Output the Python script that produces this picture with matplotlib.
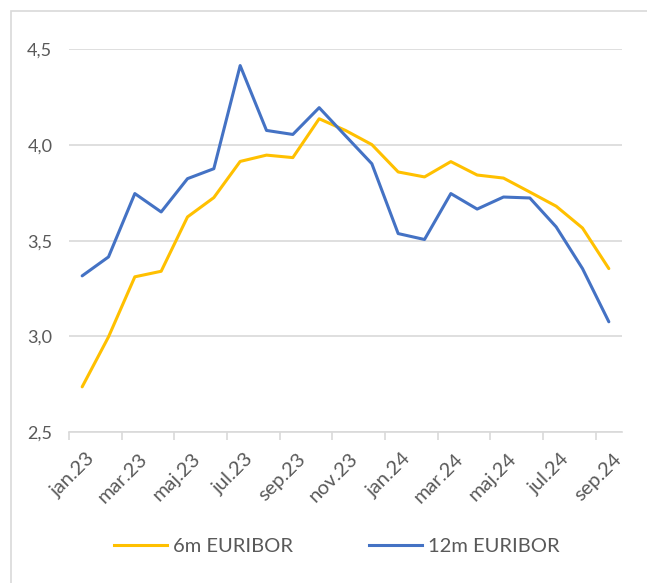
import matplotlib
matplotlib.use("Agg")
import matplotlib.pyplot as plt
from matplotlib.patches import Rectangle
from matplotlib.lines import Line2D
from matplotlib.transforms import ScaledTranslation

months = ["jan.23", "feb.23", "mar.23", "apr.23", "maj.23", "jun.23", "jul.23",
          "aug.23", "sep.23", "okt.23", "nov.23", "dec.23", "jan.24", "feb.24",
          "mar.24", "apr.24", "maj.24", "jun.24", "jul.24", "aug.24", "sep.24"]
euribor_6m = [2.736, 2.997, 3.311, 3.340, 3.624, 3.725, 3.914, 3.947, 3.934, 4.137,
              4.076, 4.002, 3.859, 3.833, 3.913, 3.843, 3.827, 3.754, 3.680, 3.566, 3.354]
euribor_12m = [3.316, 3.415, 3.746, 3.650, 3.824, 3.876, 4.415, 4.076, 4.055, 4.195,
               4.048, 3.902, 3.537, 3.506, 3.746, 3.665, 3.728, 3.723, 3.572, 3.354, 3.076]
yticks = [2.5, 3.0, 3.5, 4.0, 4.5]
ytick_labels = ["2,5", "3,0", "3,5", "4,0", "4,5"]
series_names = ["6m EURIBOR", "12m EURIBOR"]

plt.rcParams['font.family'] = ['Lato', 'DejaVu Sans']
W, H = 647, 583
fig = plt.figure(figsize=(W / 100, H / 100), dpi=100)

# outer chart frame
fig.patches.append(Rectangle((11 / W, -0.05), 1.1, 1 - 11 / H + 0.05, transform=fig.transFigure,
                             fill=False, edgecolor="#d9d9d9", linewidth=1.2))

ax = fig.add_axes([69 / W, 1 - 432 / H, (622 - 69) / W, (432 - 49.3) / H])
x = list(range(len(months)))
ax.plot(x, euribor_6m, color="#FFC000", linewidth=2.2, solid_capstyle="round",
        solid_joinstyle="round", label=series_names[0])
ax.plot(x, euribor_12m, color="#4472C4", linewidth=2.2, solid_capstyle="round",
        solid_joinstyle="round", label=series_names[1])

ax.set_xlim(-0.5, len(months) - 0.5)
ax.set_ylim(2.5, 4.5)
ax.set_yticks(yticks)
ax.set_yticklabels(ytick_labels)
ax.yaxis.grid(True, color="#d9d9d9", linewidth=1.2)
ax.set_axisbelow(True)
ax.tick_params(axis="y", length=0, pad=12, labelsize=13, labelcolor="#595959")

# major ticks at category boundaries, labels at every 2nd category
ax.set_xticks([i - 0.5 for i in range(0, len(months), 2)])
ax.set_xticklabels([])
ax.tick_params(axis="x", which="major", length=6, width=1.2, color="#d9d9d9")
ax.set_xticks(list(range(0, len(months), 2)), minor=True)
ax.set_xticklabels(months[::2], minor=True, rotation=45, ha="right",
                   rotation_mode="anchor")
ax.tick_params(axis="x", which="minor", length=0, pad=13, labelsize=14.5,
               labelcolor="#595959")
off = ScaledTranslation(4 / 100, 0, fig.dpi_scale_trans)
for lbl in ax.get_xticklabels(minor=True):
    lbl.set_transform(lbl.get_transform() + off)

for s in ["top", "right", "left"]:
    ax.spines[s].set_visible(False)
ax.spines["bottom"].set_color("#d9d9d9")
ax.spines["bottom"].set_linewidth(1.2)

handles = [Line2D([0], [0], color="#FFC000", linewidth=2.2),
           Line2D([0], [0], color="#4472C4", linewidth=2.2)]
fig.legend(handles, series_names, loc="center", bbox_to_anchor=(337 / W, 1 - 546 / H),
           ncol=2, frameon=False, fontsize=14.5, handlelength=2.65, handletextpad=0.3,
           columnspacing=3.75, labelcolor="#595959")

fig.savefig("out.png", dpi=100)
